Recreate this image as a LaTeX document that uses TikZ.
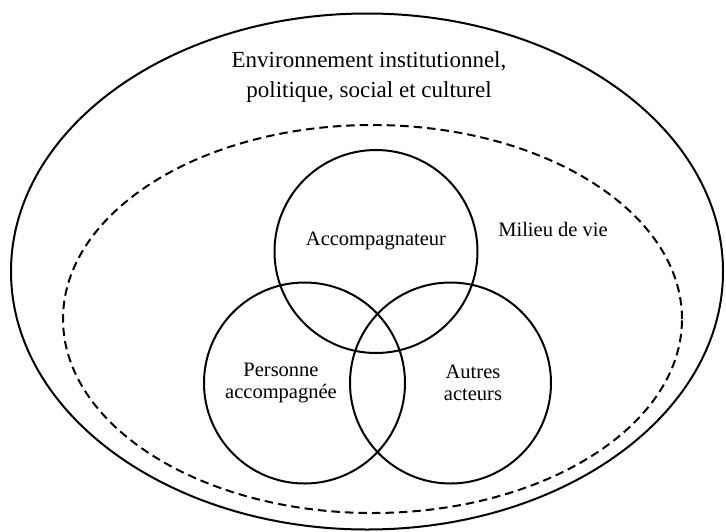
\documentclass[tikz,border=0pt]{standalone}
\usepackage{fontspec}
\setmainfont{Liberation Serif}
\begin{document}
\begin{tikzpicture}[x=1pt,y=-1pt,
  ring/.style={line width=2pt},
  dashring/.style={line width=2pt, dash pattern=on 8.5pt off 5pt},
  bigtxt/.style={font=\fontsize{23}{30}\selectfont, align=center, inner sep=0pt},
  smalltxt/.style={font=\fontsize{20.5}{21.5}\selectfont, align=center, inner sep=0pt}]
\useasboundingbox (0,0) rectangle (726,531);
\draw[ring] (367,271.5) ellipse [x radius=356pt, y radius=258pt];
\draw[dashring] (372.5,319) ellipse [x radius=309.5pt, y radius=194pt];
\draw[ring] (376,251.5) circle [radius=101.5pt];
\draw[ring] (304.5,383) circle [radius=100.5pt];
\draw[ring] (450.5,383) circle [radius=100.5pt];
\node[bigtxt] (env) at (369,77) {Environnement institutionnel,\\politique, social et culturel};
\node[smalltxt] (milieu) at (553,229) {Milieu de vie};
\node[smalltxt] (acc) at (376,241) {Accompagnateur};
\node[smalltxt] (pers) at (281,383) {Personne\\accompagnée};
\node[smalltxt] (autres) at (473,383) {Autres\\acteurs};
\end{tikzpicture}
\end{document}
